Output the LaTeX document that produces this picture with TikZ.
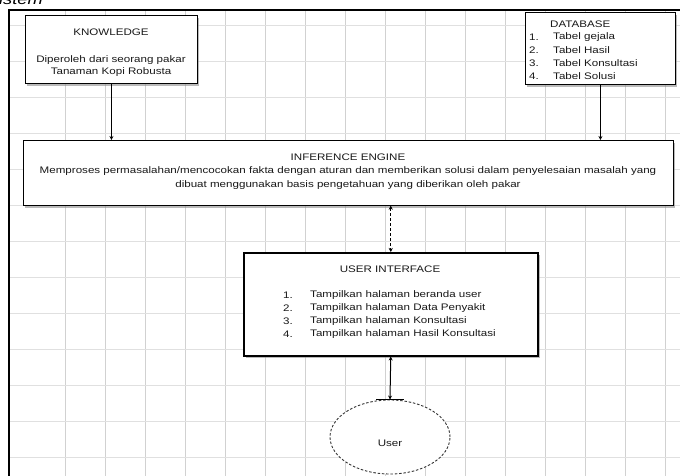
\documentclass[tikz,border=0pt]{standalone}
\usepackage{fontspec}
\setmainfont{Liberation Sans}[FakeStretch=1.22]
\usetikzlibrary{arrows.meta,shadows,shapes.geometric}
\tikzset{
  boxnode/.style={draw=black, fill=white, line width=0.9pt, inner sep=0pt,
    drop shadow={shadow xshift=2pt, shadow yshift=-2.5pt, fill=black!45, opacity=0.6}},
  txt/.style={inner sep=0pt, font=\fontsize{9.5}{13}\selectfont, text=black!90},
  link/.style={line width=1.1pt, -{Stealth[length=4pt,width=4pt]}},
  bilink/.style={line width=1pt, {Stealth[length=4pt,width=4pt]}-{Stealth[length=4pt,width=4pt]}},
  vgrid/.style={draw=black!18, line width=0.5pt},
  hgrid/.style={draw=black!12, line width=0.5pt}
}
\begin{document}
\begin{tikzpicture}[x=1pt,y=-1pt]
\useasboundingbox (0,0) rectangle (680,476);
% caption fragment
\node[anchor=base east, inner sep=0pt, font=\itshape\fontsize{15}{15}\selectfont] (cap) at (43,5) {Sistem};
% grid
\foreach \gx in {65,105,...,665} \draw[vgrid] (\gx,10) -- (\gx,480);
\foreach \gy in {25,61,...,480} \draw[hgrid] (10,\gy) -- (685,\gy);
% frame
\draw[line width=1.3pt] (9,490) -- (9,10) -- (690,10);
% knowledge
\node[boxnode, anchor=north west, minimum width=172pt, minimum height=68pt] (kn) at (25,15) {};
\node[txt] (kntitle) at (111,32) {KNOWLEDGE};
\node[txt, align=center, anchor=north, font=\fontsize{9.5}{12}\selectfont] (knbody) at (111,55) {Diperoleh dari seorang pakar\\Tanaman Kopi Robusta};
% database
\node[boxnode, anchor=north west, minimum width=150pt, minimum height=72pt] (db) at (525,12) {};
\node[txt, anchor=west] (dbtitle) at (550,24) {DATABASE};
\node[txt, anchor=west] (dbn1) at (529,37) {1.};
\node[txt, anchor=west] (dbn2) at (529,50) {2.};
\node[txt, anchor=west] (dbn3) at (529,63) {3.};
\node[txt, anchor=west] (dbn4) at (529,76) {4.};
\node[txt, anchor=west] (dbt1) at (553,37) {Tabel gejala};
\node[txt, anchor=west] (dbt2) at (553,50) {Tabel Hasil};
\node[txt, anchor=west] (dbt3) at (553,63) {Tabel Konsultasi};
\node[txt, anchor=west] (dbt4) at (553,76) {Tabel Solusi};
% inference engine
\node[boxnode, anchor=north west, minimum width=650pt, minimum height=65pt, line width=0.7pt] (ie) at (23,140) {};
\node[txt] (ietitle) at (348,157) {INFERENCE ENGINE};
\node[txt, align=center, anchor=north, font=\fontsize{9.5}{14.5}\selectfont] (iebody) at (348,166) {Memproses permasalahan/mencocokan fakta dengan aturan dan memberikan solusi dalam penyelesaian masalah yang\\dibuat menggunakan basis pengetahuan yang diberikan oleh pakar};
% user interface
\node[boxnode, anchor=north west, minimum width=294pt, minimum height=103pt, line width=1.5pt] (ui) at (243,252) {};
\node[txt] (uititle) at (390,269) {USER INTERFACE};
\node[txt, anchor=west] (uin1) at (283,295) {1.};
\node[txt, anchor=west] (uin2) at (283,308) {2.};
\node[txt, anchor=west] (uin3) at (283,321) {3.};
\node[txt, anchor=west] (uin4) at (283,334) {4.};
\node[txt, anchor=west] (uit1) at (310,295) {Tampilkan halaman beranda user};
\node[txt, anchor=west] (uit2) at (310,308) {Tampilkan halaman Data Penyakit};
\node[txt, anchor=west] (uit3) at (310,321) {Tampilkan halaman Konsultasi};
\node[txt, anchor=west] (uit4) at (310,334) {Tampilkan halaman Hasil Konsultasi};
% user
\node[ellipse, draw=black!80, fill=white, line width=0.9pt, dash pattern=on 2.5pt off 1.8pt,
  minimum width=120pt, minimum height=74pt, inner sep=0pt] (user) at (390,437) {};
\node[txt] (usertext) at (390,443) {User};
% connectors
\draw[link] (kn.south) -- (kn.south |- ie.north);
\draw[link] (db.south) -- (db.south |- ie.north);
\draw[bilink, densely dashed, line width=0.8pt] (ie.south -| ui.north) -- (ui.north);
\draw[bilink] (ui.south) -- (user.north);
\draw[line width=1.1pt] ([xshift=-14pt]user.north) -- ([xshift=14pt]user.north);
\end{tikzpicture}
\end{document}
